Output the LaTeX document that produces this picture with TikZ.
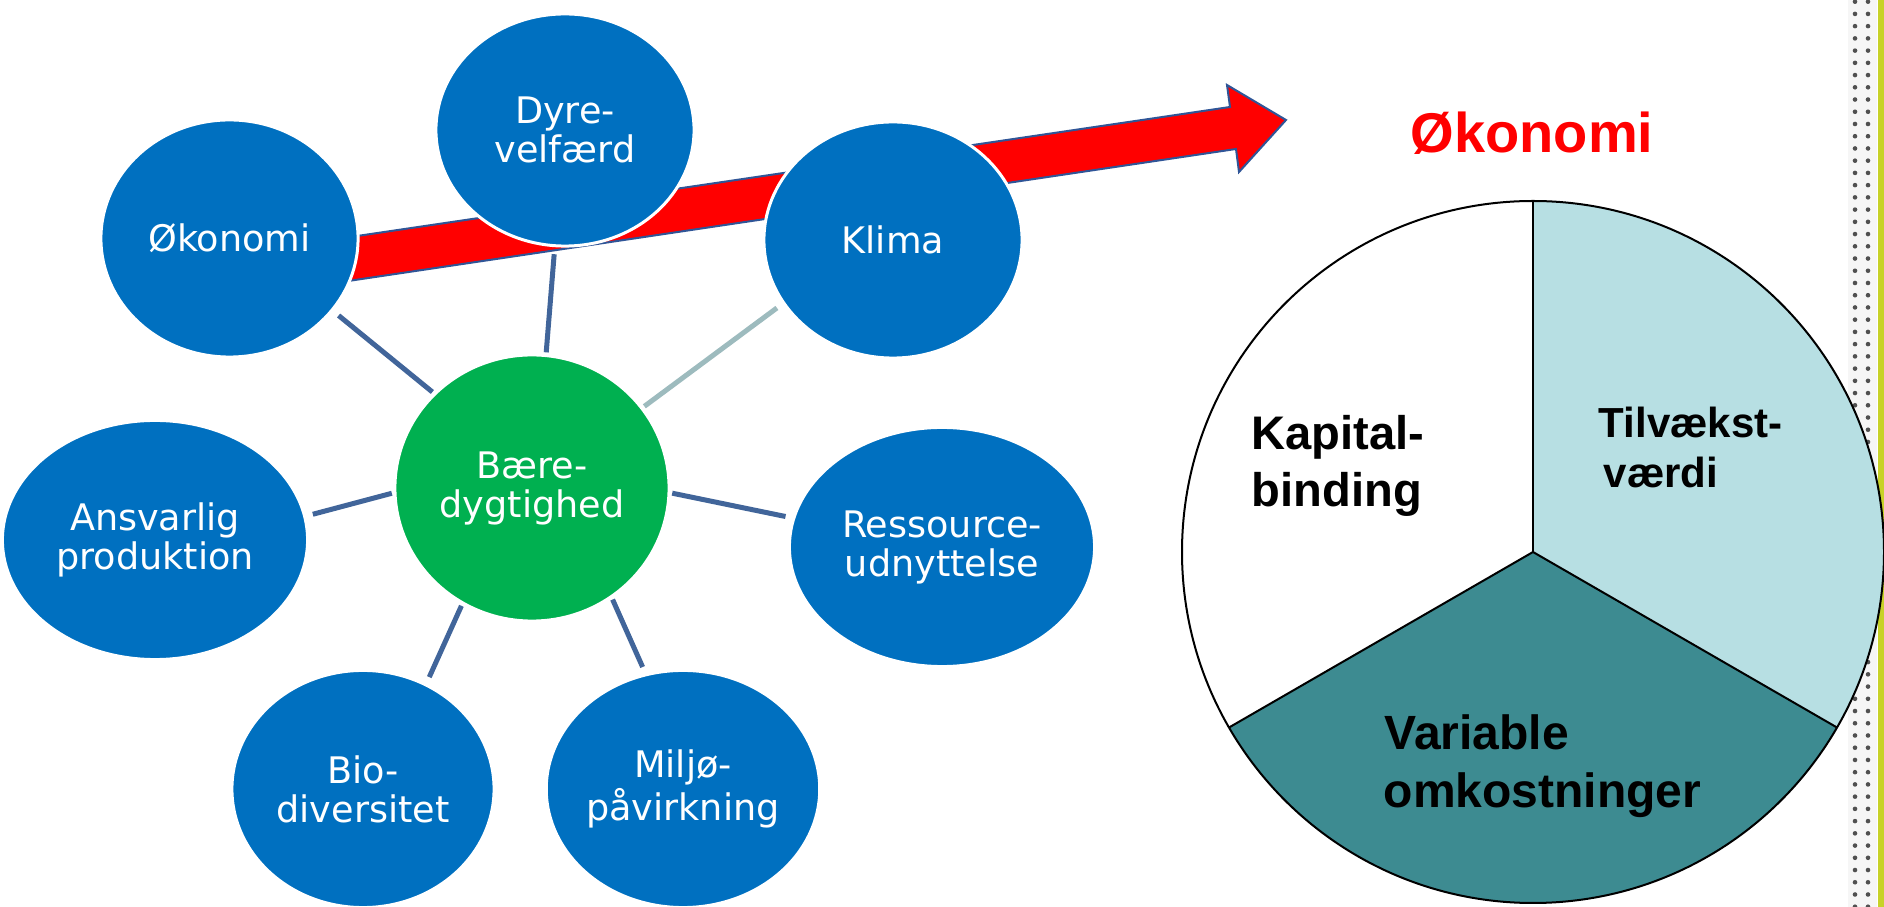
\documentclass[tikz,border=0pt]{standalone}
\usepackage{fontspec}
\setmainfont{DejaVu Sans}
\newfontfamily\arialfam{Liberation Sans}
\usetikzlibrary{shapes.geometric}

\definecolor{sablue}{RGB}{0,112,192}
\definecolor{sagreen}{RGB}{0,176,80}
\definecolor{linec}{RGB}{65,101,154}
\definecolor{linelight}{RGB}{157,187,190}
\definecolor{arrowedge}{RGB}{47,85,151}
\definecolor{pielight}{RGB}{183,223,227}
\definecolor{pieteal}{RGB}{61,139,145}
\definecolor{barcol}{RGB}{200,210,40}
\definecolor{dotc}{RGB}{80,80,80}
\definecolor{stripbg}{RGB}{246,246,246}

\newcommand\myellf{\fontsize{10.4pt}{11.1pt}\selectfont}
\newcommand\mykapf{\arialfam\bfseries\fontsize{13.4pt}{16pt}\selectfont}
\newcommand\mytilf{\arialfam\bfseries\fontsize{11.95pt}{14pt}\selectfont}
\newcommand\myvarf{\arialfam\bfseries\fontsize{13.66pt}{16pt}\selectfont}
\newcommand\mytitf{\arialfam\bfseries\fontsize{15.93pt}{19pt}\selectfont}

\begin{document}
\begin{tikzpicture}[x=0.01cm,y=0.01cm,
  ell/.style={ellipse, fill=sablue, draw=white, line width=0.03cm, inner sep=0pt,
    text=white, align=center, font=\myellf},
  conn/.style={draw=linec, line width=0.05cm, shorten <=0.5pt, shorten >=2pt},
  connlight/.style={draw=linelight, line width=0.05cm, shorten <=0.5pt, shorten >=2pt},
  pietext/.style={anchor=base west, inner sep=0pt, text=black}]

\useasboundingbox (0,0) rectangle (1884,-907);

% right border strip
\fill[stripbg] (1848,0) rectangle (1877,-907);
\foreach \i in {0,...,74} {
  \fill[dotc] (1855,{-1.7-12.23*\i}) circle[radius=2.3];
  \fill[dotc] (1868,{-1.7-12.23*\i}) circle[radius=2.3];
}
\fill[barcol] (1878,0) rectangle (1884,-907);

% arrow
\filldraw[fill=red, draw=arrowedge, line width=0.02cm, line join=miter]
  (320,-241.5) -- (1230,-107) -- (1227,-85) -- (1286,-120) -- (1239,-172)
  -- (1236,-149) -- (320,-285.2) -- cycle;

% ellipses
\node[ell, minimum width=2.57cm, minimum height=2.37cm] (oko) at (229.5,-238.5) {Økonomi};
\node[ell, minimum width=2.58cm, minimum height=2.32cm] (dyr) at (565,-130) {Dyre-\\velfærd};
\node[ell, minimum width=2.58cm, minimum height=2.36cm] (kli) at (893,-240) {Klima};
\node[ell, fill=sagreen, minimum width=2.74cm, minimum height=2.66cm] (gre) at (532,-488) {Bære-\\dygtighed};
\node[ell, minimum width=3.05cm, minimum height=2.39cm] (ans) at (155,-540) {Ansvarlig\\produktion};
\node[ell, minimum width=3.05cm, minimum height=2.39cm] (res) at (942,-547) {Ressource-\\udnyttelse};
\node[ell, minimum width=2.62cm, minimum height=2.37cm] (bio) at (363,-789) {Bio-\\diversitet};
\node[ell, minimum width=2.56cm, minimum height=2.37cm] (mil) at (683,-789) {Miljø-\\påvirkning};

% connectors
\draw[conn] (gre.136.6) -- (oko.-35.7);
\draw[conn] (gre.84.1) -- (dyr.265.3);
\draw[connlight] (gre.36.9) -- (kli.210.5);
\draw[conn] (gre.182.9) -- (ans.9.2);
\draw[conn] (gre.-2.3) -- (res.169.6);
\draw[conn] (gre.239.5) -- (bio.59.4);
\draw[conn] (gre.-54.9) -- (mil.108.4);

% pie
\coordinate (pc) at (1533,-552);
\fill[pielight] (pc) -- ++(90:351) arc[start angle=90, end angle=-30, radius=351] -- cycle;
\fill[pieteal] (pc) -- ++(-30:351) arc[start angle=-30, end angle=-150, radius=351] -- cycle;
\fill[white] (pc) -- ++(210:351) arc[start angle=210, end angle=90, radius=351] -- cycle;
\draw[black, line width=0.02cm] (pc) circle[radius=351];
\draw[black, line width=0.02cm] (pc) -- ++(90:351);
\draw[black, line width=0.02cm] (pc) -- ++(-30:351);
\draw[black, line width=0.02cm] (pc) -- ++(210:351);

% pie texts
\node[pietext, text=red, font=\mytitf] (tit) at (1410,-153) {Økonomi};
\node[pietext, font=\mykapf] (kap1) at (1251,-450) {Kapital-};
\node[pietext, font=\mykapf] (kap2) at (1251,-507) {binding};
\node[pietext, font=\mytilf] (til1) at (1598,-438) {Tilvækst-};
\node[pietext, font=\mytilf] (til2) at (1603,-488) {værdi};
\node[pietext, font=\myvarf] (var1) at (1384,-750) {Variable};
\node[pietext, font=\myvarf] (var2) at (1383,-808) {omkostninger};

\end{tikzpicture}
\end{document}
